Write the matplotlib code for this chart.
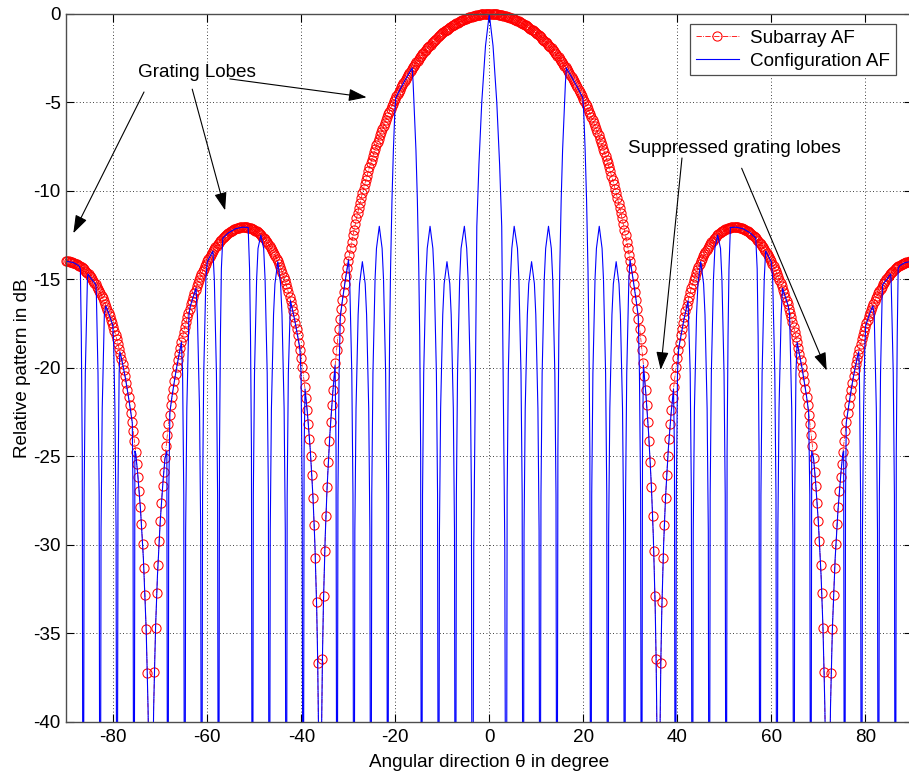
import matplotlib
matplotlib.use("Agg")
import matplotlib.pyplot as plt
from matplotlib.lines import Line2D
import numpy as np

plt.rcParams["font.family"] = ["Liberation Sans", "DejaVu Sans"]
plt.rcParams["font.size"] = 13.6
plt.rcParams["axes.unicode_minus"] = False

# ---- Subarray AF (red circles): one reading every 0.25 degree ----
sub_theta = np.linspace(-90, 90, 721)

# levels in dB for theta = -90 ... -0.25
sub_db_left = [
    -13.98,
    -13.98, -13.99, -14.00, -14.01, -14.03, -14.06, -14.08, -14.11,
    -14.15, -14.19, -14.23, -14.27, -14.32, -14.38, -14.44, -14.50,
    -14.57, -14.65, -14.72, -14.80, -14.89, -14.98, -15.08, -15.18,
    -15.29, -15.41, -15.53, -15.65, -15.78, -15.92, -16.06, -16.21,
    -16.37, -16.54, -16.71, -16.88, -17.07, -17.27, -17.48, -17.69,
    -17.91, -18.14, -18.39, -18.65, -18.92, -19.20, -19.50, -19.81,
    -20.14, -20.48, -20.85, -21.24, -21.65, -22.08, -22.54, -23.04,
    -23.57, -24.14, -24.75, -25.42, -26.15, -26.95, -27.84, -28.84,
    -29.98, -31.30, -32.86, -34.78, -37.27, -40.77, -46.80, -80.0,
    -46.80, -40.72, -37.20, -34.69, -32.74, -31.15, -29.81, -28.65,
    -27.62, -26.70, -25.88, -25.12, -24.43, -23.79, -23.20, -22.64,
    -22.12, -21.64, -21.18, -20.74, -20.33, -19.94, -19.57, -19.21,
    -18.88, -18.55, -18.24, -17.95, -17.67, -17.40, -17.14, -16.89,
    -16.65, -16.42, -16.20, -15.99, -15.79, -15.59, -15.40, -15.21,
    -15.04, -14.87, -14.71, -14.55, -14.40, -14.26, -14.12, -13.98,
    -13.85, -13.73, -13.61, -13.50, -13.39, -13.28, -13.18, -13.09,
    -13.00, -12.92, -12.83, -12.75, -12.68, -12.61, -12.55, -12.48,
    -12.43, -12.38, -12.33, -12.28, -12.24, -12.20, -12.17, -12.14,
    -12.11, -12.09, -12.07, -12.06, -12.05, -12.04, -12.04, -12.04,
    -12.05, -12.06, -12.07, -12.09, -12.12, -12.14, -12.18, -12.21,
    -12.25, -12.29, -12.34, -12.39, -12.45, -12.52, -12.58, -12.65,
    -12.73, -12.82, -12.90, -12.99, -13.10, -13.21, -13.32, -13.43,
    -13.56, -13.70, -13.84, -13.98, -14.14, -14.30, -14.47, -14.65,
    -14.85, -15.05, -15.26, -15.48, -15.73, -15.98, -16.24, -16.51,
    -16.80, -17.12, -17.45, -17.80, -18.17, -18.57, -19.00, -19.46,
    -19.95, -20.49, -21.07, -21.70, -22.39, -23.16, -24.01, -24.97,
    -26.07, -27.36, -28.88, -30.76, -33.21, -36.67, -42.64, -80.0,
    -42.54, -36.47, -32.89, -30.35, -28.36, -26.73, -25.34, -24.14,
    -23.07, -22.11, -21.24, -20.44, -19.71, -19.02, -18.38, -17.78,
    -17.22, -16.68, -16.18, -15.70, -15.24, -14.80, -14.38, -13.98,
    -13.60, -13.23, -12.87, -12.52, -12.19, -11.87, -11.55, -11.25,
    -10.96, -10.68, -10.40, -10.13, -9.87, -9.62, -9.37, -9.13,
    -8.90, -8.67, -8.45, -8.23, -8.02, -7.82, -7.62, -7.42,
    -7.23, -7.04, -6.85, -6.67, -6.50, -6.33, -6.16, -5.99,
    -5.83, -5.68, -5.52, -5.37, -5.22, -5.08, -4.93, -4.79,
    -4.66, -4.53, -4.40, -4.27, -4.14, -4.02, -3.90, -3.78,
    -3.67, -3.55, -3.44, -3.33, -3.23, -3.12, -3.02, -2.92,
    -2.82, -2.73, -2.63, -2.54, -2.45, -2.36, -2.28, -2.19,
    -2.11, -2.03, -1.95, -1.88, -1.80, -1.73, -1.66, -1.59,
    -1.52, -1.45, -1.39, -1.32, -1.26, -1.20, -1.15, -1.09,
    -1.03, -0.98, -0.93, -0.88, -0.83, -0.78, -0.73, -0.69,
    -0.64, -0.60, -0.56, -0.53, -0.49, -0.45, -0.42, -0.39,
    -0.35, -0.32, -0.29, -0.27, -0.24, -0.21, -0.19, -0.17,
    -0.15, -0.13, -0.11, -0.09, -0.08, -0.07, -0.05, -0.04,
    -0.03, -0.02, -0.02, -0.01, -0.01, -0.00, -0.00,
]

# levels in dB for theta = 0 ... 90
sub_db_right = [
    0.00, -0.00, -0.00, -0.01, -0.01, -0.02, -0.02, -0.03,
    -0.04, -0.05, -0.07, -0.08, -0.09, -0.11, -0.13, -0.15,
    -0.17, -0.19, -0.21, -0.24, -0.27, -0.29, -0.32, -0.35,
    -0.39, -0.42, -0.45, -0.49, -0.53, -0.56, -0.60, -0.64,
    -0.69, -0.73, -0.78, -0.83, -0.88, -0.93, -0.98, -1.03,
    -1.09, -1.15, -1.20, -1.26, -1.32, -1.39, -1.45, -1.52,
    -1.59, -1.66, -1.73, -1.80, -1.88, -1.95, -2.03, -2.11,
    -2.19, -2.28, -2.36, -2.45, -2.54, -2.63, -2.73, -2.82,
    -2.92, -3.02, -3.12, -3.23, -3.33, -3.44, -3.55, -3.67,
    -3.78, -3.90, -4.02, -4.14, -4.27, -4.40, -4.53, -4.66,
    -4.79, -4.93, -5.08, -5.22, -5.37, -5.52, -5.68, -5.83,
    -5.99, -6.16, -6.33, -6.50, -6.67, -6.85, -7.04, -7.23,
    -7.42, -7.62, -7.82, -8.02, -8.23, -8.45, -8.67, -8.90,
    -9.13, -9.37, -9.62, -9.87, -10.13, -10.40, -10.68, -10.96,
    -11.25, -11.55, -11.87, -12.19, -12.52, -12.87, -13.23, -13.60,
    -13.98, -14.38, -14.80, -15.24, -15.70, -16.18, -16.68, -17.22,
    -17.78, -18.38, -19.02, -19.71, -20.44, -21.24, -22.11, -23.07,
    -24.14, -25.34, -26.73, -28.36, -30.35, -32.89, -36.47, -42.54,
    -80.0, -42.64, -36.67, -33.21, -30.76, -28.88, -27.36, -26.07,
    -24.97, -24.01, -23.16, -22.39, -21.70, -21.07, -20.49, -19.95,
    -19.46, -19.00, -18.57, -18.17, -17.80, -17.45, -17.12, -16.80,
    -16.51, -16.24, -15.98, -15.73, -15.48, -15.26, -15.05, -14.85,
    -14.65, -14.47, -14.30, -14.14, -13.98, -13.84, -13.70, -13.56,
    -13.43, -13.32, -13.21, -13.10, -12.99, -12.90, -12.82, -12.73,
    -12.65, -12.58, -12.52, -12.45, -12.39, -12.34, -12.29, -12.25,
    -12.21, -12.18, -12.14, -12.12, -12.09, -12.07, -12.06, -12.05,
    -12.04, -12.04, -12.04, -12.05, -12.06, -12.07, -12.09, -12.11,
    -12.14, -12.17, -12.20, -12.24, -12.28, -12.33, -12.38, -12.43,
    -12.48, -12.55, -12.61, -12.68, -12.75, -12.83, -12.92, -13.00,
    -13.09, -13.18, -13.28, -13.39, -13.50, -13.61, -13.73, -13.85,
    -13.98, -14.12, -14.26, -14.40, -14.55, -14.71, -14.87, -15.04,
    -15.21, -15.40, -15.59, -15.79, -15.99, -16.20, -16.42, -16.65,
    -16.89, -17.14, -17.40, -17.67, -17.95, -18.24, -18.55, -18.88,
    -19.21, -19.57, -19.94, -20.33, -20.74, -21.18, -21.64, -22.12,
    -22.64, -23.20, -23.79, -24.43, -25.12, -25.88, -26.70, -27.62,
    -28.65, -29.81, -31.15, -32.74, -34.69, -37.20, -40.72, -46.80,
    -80.0, -46.80, -40.77, -37.27, -34.78, -32.86, -31.30, -29.98,
    -28.84, -27.84, -26.95, -26.15, -25.42, -24.75, -24.14, -23.57,
    -23.04, -22.54, -22.08, -21.65, -21.24, -20.85, -20.48, -20.14,
    -19.81, -19.50, -19.20, -18.92, -18.65, -18.39, -18.14, -17.91,
    -17.69, -17.48, -17.27, -17.07, -16.88, -16.71, -16.54, -16.37,
    -16.21, -16.06, -15.92, -15.78, -15.65, -15.53, -15.41, -15.29,
    -15.18, -15.08, -14.98, -14.89, -14.80, -14.72, -14.65, -14.57,
    -14.50, -14.44, -14.38, -14.32, -14.27, -14.23, -14.19, -14.15,
    -14.11, -14.08, -14.06, -14.03, -14.01, -14.00, -13.99, -13.98,
    -13.98,
]

# ---- Configuration AF (blue line), lobe outline points ----
conf_theta = [
    -90.0, -88.5, -87.3, -87.0, -86.8, -86.6, -86.4,
    -86.2, -85.95, -85.5, -85.4, -84.6, -83.7, -83.6, -83.25, -83.0, -82.8,
    -82.6, -82.35, -81.9, -81.6, -81.0, -80.1, -79.9, -79.65, -79.4, -79.2,
    -79.0, -78.75, -78.6, -78.3, -77.4, -76.5, -75.95, -75.8, -75.6,
    -75.4, -75.2, -74.8, -74.2, -73.6, -73.0, -72.6, -72.3, -72.0, -71.7, -71.4, -71.0, -70.6, -70.0, -69.4, -69.0, -68.6, -68.4,
    -68.2, -67.95, -67.5, -66.6, -65.5, -65.25, -65.0, -64.8,
    -64.6, -64.35, -63.9, -63.6, -63.0, -62.4, -62.1, -61.65, -61.4, -61.2,
    -61.0, -60.75, -60.3, -60.0, -59.4, -58.8, -58.5, -58.05, -57.8, -57.6,
    -57.4, -57.2, -57.0, -56.7, -55.5, -54.0, -52.5, -51.3, -51.0, -50.8, -50.6, -50.4,
    -50.2, -49.95, -49.5, -49.2, -48.6, -48.0, -47.7, -47.25, -47.0, -46.8,
    -46.6, -46.35, -45.9, -45.6, -45.0, -44.4, -44.1, -43.65, -43.4, -43.2,
    -43.0, -42.75, -42.3, -41.4, -40.3, -40.05, -39.8, -39.6,
    -39.4, -39.2, -38.7, -38.1, -37.5, -37.1, -36.7, -36.5, -36.3, -36.0, -35.7, -35.5, -35.3, -34.9, -34.5, -33.9, -33.3, -32.8, -32.6, -32.4,
    -32.2, -31.95, -31.7, -31.5, -31.2, -30.6, -29.95, -29.7, -29.25, -29.0, -28.8,
    -28.6, -28.35, -27.9, -27.6, -27.0, -26.4, -26.1, -25.65, -25.4, -25.2,
    -25.0, -24.75, -24.3, -24.0, -23.4, -22.8, -22.5, -22.05, -21.8, -21.6,
    -21.4, -21.2, -21.0, -20.7, -20.4, -20.1, -19.9, -19.0, -18.0, -17.0, -16.4, -16.2, -15.6, -15.3, -15.0, -14.8, -14.6, -14.4,
    -14.2, -13.95, -13.5, -13.2, -12.6, -12.0, -11.7, -11.25, -11.0, -10.8,
    -10.6, -10.35, -9.9, -9.6, -9.0, -8.4, -8.1, -7.65, -7.4, -7.2,
    -7.0, -6.75, -6.3, -6.0, -5.3, -4.8, -4.5, -4.05, -3.8, -3.6,
    -3.3, -3.0, -2.65, -2.2, -1.6, -0.8,
    0.0,
    0.8, 1.6, 2.2, 2.65, 3.0, 3.3,
    3.6, 3.8, 4.05, 4.5, 4.8, 5.3, 6.0, 6.3, 6.75, 7.0,
    7.2, 7.4, 7.65, 8.1, 8.4, 9.0, 9.6, 9.9, 10.35, 10.6,
    10.8, 11.0, 11.25, 11.7, 12.0, 12.6, 13.2, 13.5, 13.95, 14.2,
    14.4, 14.6, 14.8, 15.0, 15.3, 15.6, 16.2, 16.4, 17.0, 18.0, 19.0, 19.9, 20.1, 20.4, 20.7, 21.0, 21.2, 21.4,
    21.6, 21.8, 22.05, 22.5, 22.8, 23.4, 24.0, 24.3, 24.75, 25.0,
    25.2, 25.4, 25.65, 26.1, 26.4, 27.0, 27.6, 27.9, 28.35, 28.6,
    28.8, 29.0, 29.25, 29.7, 29.95, 30.6, 31.2, 31.5, 31.7, 31.95, 32.2,
    32.4, 32.6, 32.8, 33.3, 33.9, 34.5, 34.9, 35.3, 35.5, 35.7, 36.0, 36.3, 36.5, 36.7, 37.1, 37.5, 38.1, 38.7, 39.2, 39.4,
    39.6, 39.8, 40.05, 40.3, 41.4, 42.3, 42.75, 43.0,
    43.2, 43.4, 43.65, 44.1, 44.4, 45.0, 45.6, 45.9, 46.35, 46.6,
    46.8, 47.0, 47.25, 47.7, 48.0, 48.6, 49.2, 49.5, 49.95, 50.2,
    50.4, 50.6, 50.8, 51.0, 51.3, 52.5, 54.0, 55.5, 56.7, 57.0, 57.2, 57.4,
    57.6, 57.8, 58.05, 58.5, 58.8, 59.4, 60.0, 60.3, 60.75, 61.0,
    61.2, 61.4, 61.65, 62.1, 62.4, 63.0, 63.6, 63.9, 64.35, 64.6,
    64.8, 65.0, 65.25, 65.5, 66.6, 67.5, 67.95, 68.2,
    68.4, 68.6, 69.0, 69.4, 70.0, 70.6, 71.0, 71.4, 71.7, 72.0, 72.3, 72.6, 73.0, 73.6, 74.2, 74.8, 75.2, 75.4,
    75.6, 75.8, 75.95, 76.5, 77.4, 78.3, 78.6, 78.75, 79.0,
    79.2, 79.4, 79.65, 79.9, 80.1, 81.0, 81.6, 81.9, 82.35, 82.6,
    82.8, 83.0, 83.25, 83.6, 83.7, 84.6, 85.4, 85.5, 85.95, 86.2,
    86.4, 86.6, 86.8, 87.0, 87.3, 88.5, 90.0,
]
conf_db = [
    -13.98, -14.05, -14.23, -14.4, -18.2, -24.7, -60,
    -27.2, -20.3, -15.0, -14.7, -15.0, -15.3, -15.8, -20.3, -27.2, -60,
    -29.2, -22.3, -17.0, -16.5, -16.9, -17.6, -18.8, -22.3, -29.2, -60,
    -27.2, -20.3, -19.1, -19.4, -20.6, -22.1, -23.1, -27.2, -60,
    -24.7, -24.88, -26.0, -28.03, -30.74, -34.78, -39.2, -45.0, -60, -45.0, -39.14, -34.69, -31.75, -28.65, -26.36, -25.12, -24.7, -60,
    -27.2, -22.5, -21.6, -20.1, -18.55, -20.3, -27.2, -60,
    -29.2, -22.3, -17.0, -16.5, -16.0, -15.5, -17.0, -22.3, -29.2, -60,
    -27.2, -20.3, -15.0, -14.0, -13.7, -13.4, -15.0, -20.3, -27.2, -60,
    -24.7, -18.2, -14.4, -12.67, -12.37, -12.14, -12.05, -12.07, -14.4, -18.2, -24.7, -60,
    -27.2, -20.3, -15.0, -13.25, -12.5, -13.25, -15.0, -20.3, -27.2, -60,
    -29.2, -22.3, -17.0, -15.25, -14.0, -15.25, -17.0, -22.3, -29.2, -60,
    -27.2, -20.3, -16.2, -17.3, -18.9, -20.3, -27.2, -60,
    -24.7, -21.2, -22.54, -24.57, -27.36, -29.96, -33.79, -36.67, -41.1, -60, -40.9, -36.47, -33.51, -29.5, -26.73, -23.7, -21.41, -19.85, -24.7, -60,
    -27.2, -20.3, -17.1, -16.7, -16.1, -15.0, -13.9, -15.0, -20.3, -27.2, -60,
    -29.2, -22.3, -17.0, -15.25, -14.0, -15.25, -17.0, -22.3, -29.2, -60,
    -27.2, -20.3, -15.0, -13.25, -12.0, -13.25, -15.0, -20.3, -27.2, -60,
    -24.7, -18.2, -14.4, -10.5, -7.7, -5.56, -4.74, -4.27, -3.78, -3.33, -3.05, -3.9, -7.7, -10.5, -14.4, -18.2, -24.7, -60,
    -27.2, -20.3, -15.0, -13.25, -12.0, -13.25, -15.0, -20.3, -27.2, -60,
    -29.2, -22.3, -17.0, -15.25, -14.0, -15.25, -17.0, -22.3, -29.2, -60,
    -27.2, -20.3, -15.0, -13.25, -12.0, -13.25, -15.0, -20.3, -27.2, -60,
    -30.0, -22.0, -12.0, -8.5, -5.0, -1.8,
    0.0,
    -1.8, -5.0, -8.5, -12.0, -22.0, -30.0,
    -60, -27.2, -20.3, -15.0, -13.25, -12.0, -13.25, -15.0, -20.3, -27.2,
    -60, -29.2, -22.3, -17.0, -15.25, -14.0, -15.25, -17.0, -22.3, -29.2,
    -60, -27.2, -20.3, -15.0, -13.25, -12.0, -13.25, -15.0, -20.3, -27.2,
    -60, -24.7, -18.2, -14.4, -10.5, -7.7, -3.9, -3.05, -3.33, -3.78, -4.27, -4.74, -5.56, -7.7, -10.5, -14.4, -18.2, -24.7,
    -60, -27.2, -20.3, -15.0, -13.25, -12.0, -13.25, -15.0, -20.3, -27.2,
    -60, -29.2, -22.3, -17.0, -15.25, -14.0, -15.25, -17.0, -22.3, -29.2,
    -60, -27.2, -20.3, -15.0, -13.9, -15.0, -16.1, -16.7, -17.1, -20.3, -27.2,
    -60, -24.7, -19.85, -21.41, -23.7, -26.73, -29.5, -33.51, -36.47, -40.9, -60, -41.1, -36.67, -33.79, -29.96, -27.36, -24.57, -22.54, -21.2, -24.7,
    -60, -27.2, -20.3, -18.9, -17.3, -16.2, -20.3, -27.2,
    -60, -29.2, -22.3, -17.0, -15.25, -14.0, -15.25, -17.0, -22.3, -29.2,
    -60, -27.2, -20.3, -15.0, -13.25, -12.5, -13.25, -15.0, -20.3, -27.2,
    -60, -24.7, -18.2, -14.4, -12.07, -12.05, -12.14, -12.37, -12.67, -14.4, -18.2, -24.7,
    -60, -27.2, -20.3, -15.0, -13.4, -13.7, -14.0, -15.0, -20.3, -27.2,
    -60, -29.2, -22.3, -17.0, -15.5, -16.0, -16.5, -17.0, -22.3, -29.2,
    -60, -27.2, -20.3, -18.55, -20.1, -21.6, -22.5, -27.2,
    -60, -24.7, -25.12, -26.36, -28.65, -31.75, -34.69, -39.14, -45.0, -60, -45.0, -39.2, -34.78, -30.74, -28.03, -26.0, -24.88, -24.7,
    -60, -27.2, -23.1, -22.1, -20.6, -19.4, -19.1, -20.3, -27.2,
    -60, -29.2, -22.3, -18.8, -17.6, -16.9, -16.5, -17.0, -22.3, -29.2,
    -60, -27.2, -20.3, -15.8, -15.3, -15.0, -14.7, -15.0, -20.3, -27.2,
    -60, -24.7, -18.2, -14.4, -14.23, -14.05, -13.98,
]

x_ticks = [-80, -60, -40, -20, 0, 20, 40, 60, 80]
y_ticks = [-40, -35, -30, -25, -20, -15, -10, -5, 0]

sub_db = np.array(sub_db_left + sub_db_right)
# markers are drawn whole (as in the original), but only for readings inside the y range
shown = sub_db >= -40

fig = plt.figure(figsize=(9.09, 7.76), dpi=100)
ax = fig.add_axes([0.0729, 0.0700, 0.9307, 0.9120])

ax.plot(sub_theta, sub_db, color="red", linestyle="-.", linewidth=0.5)
ax.plot(sub_theta[shown], sub_db[shown], linestyle="none", marker="o",
        markersize=6.6, markerfacecolor="none", markeredgecolor="red",
        markeredgewidth=0.75, clip_on=False)
ax.plot(conf_theta, conf_db, color="#0000ff", linewidth=0.8)

ax.set_xlim(-90, 90)
ax.set_ylim(-40, 0)
ax.set_xticks(x_ticks)
ax.set_yticks(y_ticks)
ax.set_axisbelow(True)
ax.grid(True, color="black", linestyle=(0, (1, 3)), linewidth=0.6)
ax.tick_params(direction="in", top=True, right=True, length=5.5, width=0.8)
ax.tick_params(axis="x", pad=5)
ax.tick_params(axis="y", pad=4)
for sp in ax.spines.values():
    sp.set_color("0.3")
    sp.set_linewidth(1.0)

ax.set_xlabel("Angular direction \u03b8 in degree", labelpad=6)
ax.set_ylabel("Relative pattern in dB", labelpad=1.5)

handles = [
    Line2D([], [], color="red", linestyle="-.", linewidth=0.6, marker="o",
           markersize=6.6, markerfacecolor="none", markeredgewidth=0.75),
    Line2D([], [], color="#0000ff", linewidth=0.8),
]
leg = ax.legend(handles, ["Subarray AF", "Configuration AF"], loc="upper left",
                bbox_to_anchor=(690 / 909, 1 - 24 / 776),
                bbox_transform=fig.transFigure, frameon=True, fancybox=False,
                edgecolor="0.3", framealpha=1, borderpad=0.3, handlelength=2.3,
                handletextpad=0.6, labelspacing=0.3, borderaxespad=0)
leg.get_frame().set_linewidth(0.9)
leg.set_zorder(5)

arrow = dict(arrowstyle="-|>,head_length=1.1,head_width=0.38", color="black",
             lw=0.8, shrinkA=0, shrinkB=0, mutation_scale=10)

ax.text(-74.7, -3.58, "Grating Lobes", ha="left", va="baseline")
ax.annotate("", xy=(-88.5, -12.39), xytext=(-73.46, -4.41), arrowprops=arrow)
ax.annotate("", xy=(-56.2, -11.1), xytext=(-63.2, -4.25), arrowprops=arrow)
ax.annotate("", xy=(-26.1, -4.71), xytext=(-55.2, -3.67), arrowprops=arrow)

ax.text(29.6, -7.84, "Suppressed grating lobes", ha="left", va="baseline")
ax.annotate("", xy=(36.47, -20.11), xytext=(41.0, -8.14), arrowprops=arrow)
ax.annotate("", xy=(71.8, -20.15), xytext=(53.7, -8.72), arrowprops=arrow)

fig.savefig("out.png", dpi=100)
